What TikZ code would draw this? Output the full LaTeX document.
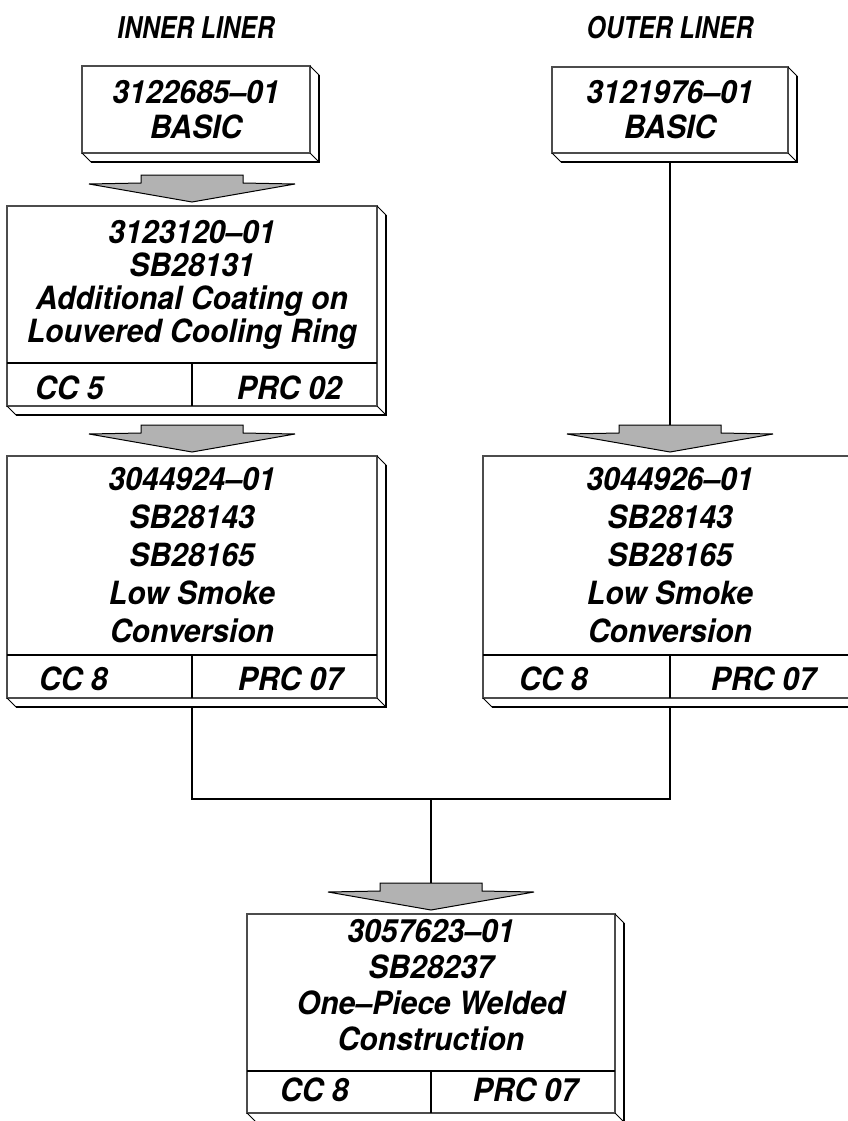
\documentclass[tikz,border=0pt]{standalone}
\usepackage{fontspec}
\setmainfont[FakeStretch=0.94]{TeX Gyre Heros}
\newfontfamily\ttlfont[FakeStretch=0.82]{TeX Gyre Heros}
\usetikzlibrary{calc}
\tikzset{
  face/.style={rectangle, draw=black!70, line width=1.1pt, inner sep=0pt, outer sep=0pt},
  txt/.style={inner sep=0pt, align=center, anchor=north, font=\fontsize{32}{#1}\selectfont\bfseries\itshape},
  txt/.default=36,
  cell/.style={inner sep=0pt, font=\fontsize{32}{36}\selectfont\bfseries\itshape},
  ttl/.style={inner sep=0pt, font=\ttlfont\fontsize{30}{34}\selectfont\bfseries\itshape},
  divline/.style={draw=black, line width=1.1pt},
  bevthin/.style={draw=black, line width=1pt},
  bevthick/.style={draw=black, line width=2.6pt},
  conn/.style={draw=black, line width=1.4pt},
  fatarr/.style={draw=black, line width=1pt, fill=black!30, line join=miter}
}
\newcommand\bevelbox[1]{%
  \draw[bevthin] (#1.north east) -- ++(9,9) (#1.south east) -- ++(9,9) (#1.south west) -- ++(9,9);
  \draw[bevthick] ($(#1.north east)+(9,9)$) -- ($(#1.south east)+(9,9)$) -- ($(#1.south west)+(9,9)$);
}
\newcommand\fatarrow[2]{%
  \begin{scope}[shift={($(#1.north)+(0,-4)$)}]
    \draw[fatarr] (0,0) -- (-103,-18) -- (-51,-19) -- (-51,-27) -- (51,-27) -- (51,-19) -- (103,-18) -- cycle;
    \coordinate (#2) at (0,-27);
  \end{scope}
}
\begin{document}
\begin{tikzpicture}[x=1pt,y=-1pt]
\useasboundingbox (0,0) rectangle (848,1121);
\clip (0,0) rectangle (848,1121);
\fill[white] (0,0) rectangle (848,1121);

% titles
\node[ttl] (t1) at (196,28) {INNER LINER};
\node[ttl] (t2) at (670,28) {OUTER LINER};

% box 1
\node[face, minimum width=228, minimum height=87] (b1) at (196,109.5) {};
\bevelbox{b1}
\node[txt=35] (b1t) at (196,80) {3122685–01\\BASIC};

% box 2
\node[face, minimum width=370, minimum height=200] (b2) at (192,306) {};
\bevelbox{b2}
\node[txt=33] (b2t) at (192,220) {3123120–01\\SB28131\\Additional Coating on\\Louvered Cooling Ring};
\coordinate (d2) at (0,363);
\draw[divline] (b2.west |- d2) -- (b2.east |- d2) (b2.south |- d2) -- (b2.south);
\node[cell, anchor=base west] (b2l) at (35,399) {CC 5};
\node[cell, anchor=base east] (b2r) at (342,399) {PRC 02};

% box 3
\node[face, minimum width=370, minimum height=242] (b3) at (192,577) {};
\bevelbox{b3}
\node[txt=38] (b3t) at (192,467) {3044924–01\\SB28143\\SB28165\\Low Smoke\\Conversion};
\coordinate (d3) at (0,655);
\draw[divline] (b3.west |- d3) -- (b3.east |- d3) (b3.south |- d3) -- (b3.south);
\node[cell, anchor=base west] (b3l) at (39,690) {CC 8};
\node[cell, anchor=base east] (b3r) at (343,690) {PRC 07};

% box 4
\node[face, minimum width=236, minimum height=86] (b4) at (670,110) {};
\bevelbox{b4}
\node[txt=35] (b4t) at (670,80) {3121976–01\\BASIC};

% box 5
\node[face, minimum width=374, minimum height=242] (b5) at (670,577) {};
\bevelbox{b5}
\node[txt=38] (b5t) at (670,467) {3044926–01\\SB28143\\SB28165\\Low Smoke\\Conversion};
\coordinate (d5) at (0,655);
\draw[divline] (b5.west |- d5) -- (b5.east |- d5) (b5.south |- d5) -- (b5.south);
\node[cell, anchor=base west] (b5l) at (519,690) {CC 8};
\node[cell, anchor=base east] (b5r) at (816,690) {PRC 07};

% box 6
\node[face, minimum width=368, minimum height=199] (b6) at (431,1013.5) {};
\bevelbox{b6}
\node[txt=36] (b6t) at (431,919) {3057623–01\\SB28237\\One–Piece Welded\\Construction};
\coordinate (d6) at (0,1071);
\draw[divline] (b6.west |- d6) -- (b6.east |- d6) (b6.south |- d6) -- (b6.south);
\node[cell, anchor=base west] (b6l) at (280,1101) {CC 8};
\node[cell, anchor=base east] (b6r) at (578,1101) {PRC 07};

% arrows
\fatarrow{b2}{a1}
\fatarrow{b3}{a2}
\fatarrow{b5}{a3}
\fatarrow{b6}{a4}

% connectors
\coordinate (j) at (431,799);
\draw[conn] ($(b4.south)+(0,9)$) -- (a3);
\draw[conn] ($(b3.south)+(0,9)$) |- (j) -| ($(b5.south)+(0,9)$);
\draw[conn] (j) -- (a4);
\end{tikzpicture}
\end{document}
